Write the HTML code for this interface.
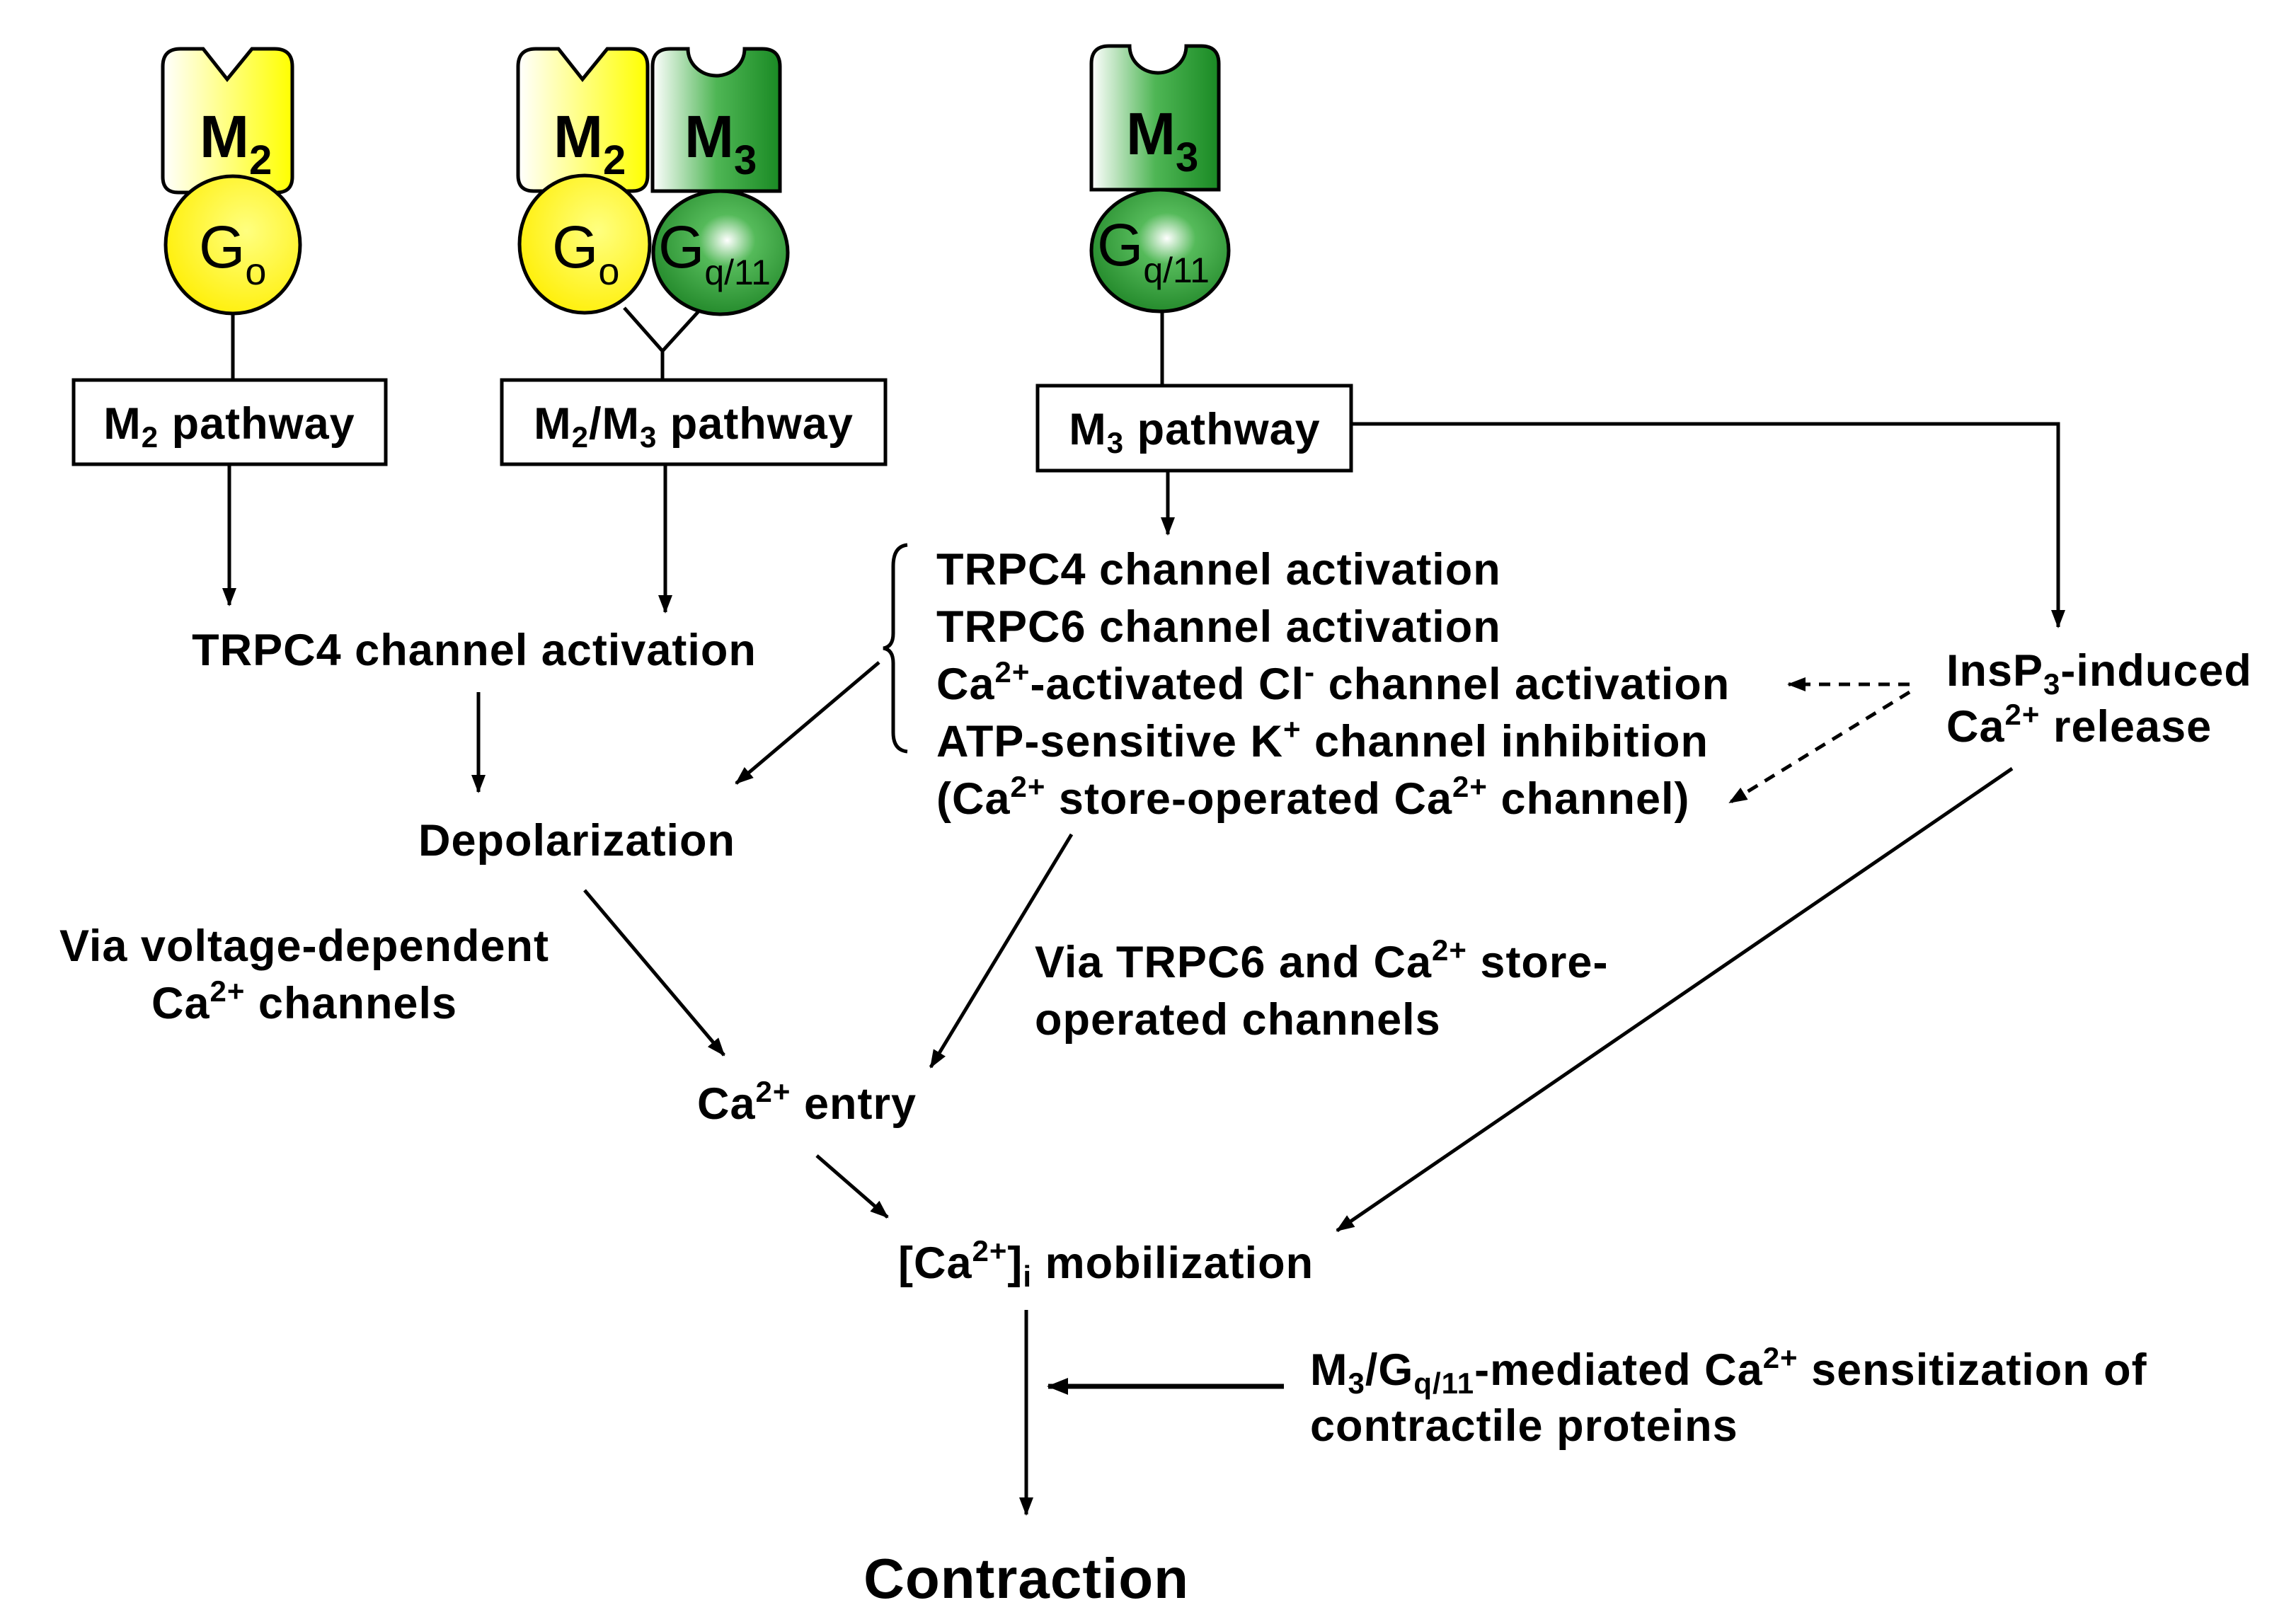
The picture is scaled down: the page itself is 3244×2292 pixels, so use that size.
<!DOCTYPE html>
<html><head><meta charset="utf-8"><style>
html,body{margin:0;padding:0;background:#fff}
svg{display:block}
text{font-family:"Liberation Sans",Arial,sans-serif;font-weight:bold;font-size:63px;fill:#000;letter-spacing:1px}
.g{font-weight:normal;font-size:84px;letter-spacing:0}
.r{font-size:84px;letter-spacing:0}
</style></head><body>
<svg width="3244" height="2292" viewBox="0 0 3244 2292" xmlns="http://www.w3.org/2000/svg">
<defs>
<linearGradient id="yl" x1="0" y1="0" x2="1" y2="0"><stop offset="0" stop-color="#fff"/><stop offset="1" stop-color="#ffff00"/></linearGradient>
<linearGradient id="gl" x1="0" y1="0" x2="1" y2="0"><stop offset="0" stop-color="#fff"/><stop offset="0.5" stop-color="#4fb655"/><stop offset="1" stop-color="#1a8a24"/></linearGradient>
<radialGradient id="yc" cx="0.6" cy="0.4" r="0.7"><stop offset="0" stop-color="#ffff80"/><stop offset="1" stop-color="#ffee00"/></radialGradient>
<radialGradient id="gc" cx="0.55" cy="0.4" r="0.7"><stop offset="0" stop-color="#fff"/><stop offset="0.3" stop-color="#55ba5a"/><stop offset="1" stop-color="#1a8022"/></radialGradient>
<marker id="a" markerUnits="userSpaceOnUse" markerWidth="26" markerHeight="20" refX="24" refY="10" orient="auto"><path d="M0,0 L26,10 L0,20 Z" fill="#000"/></marker>
<marker id="b" markerUnits="userSpaceOnUse" markerWidth="30" markerHeight="24" refX="28" refY="12" orient="auto"><path d="M0,0 L30,12 L0,24 Z" fill="#000"/></marker>
</defs>

<path d="M255 69 L287 69 L321 112 L356 69 L388 69 Q413 69 413 94 L413 250 Q413 272 391 272 L252 272 Q230 272 230 250 L230 94 Q230 69 255 69 Z" fill="url(#yl)" stroke="#000" stroke-width="5"/>
<text class="r" x="282" y="222">M<tspan font-size="58" dy="24">2</tspan></text>
<ellipse cx="329" cy="346" rx="95" ry="97" fill="url(#yc)" stroke="#000" stroke-width="5"/>
<text class="g" x="281" y="378">G<tspan font-size="54" dy="24">o</tspan></text>
<line x1="329" y1="443" x2="329" y2="536" stroke="#000" stroke-width="5"/>

<path d="M757 69 L789 69 L823 112 L858 69 L890 69 Q915 69 915 94 L915 248 Q915 270 893 270 L754 270 Q732 270 732 248 L732 94 Q732 69 757 69 Z" fill="url(#yl)" stroke="#000" stroke-width="5"/>
<ellipse cx="1018" cy="357" rx="95" ry="87" fill="url(#gc)" stroke="#000" stroke-width="5"/>
<path d="M947 69 L972 69 A40 38 0 0 0 1052 69 L1077 69 Q1102 69 1102 94 L1102 270 L922 270 L922 94 Q922 69 947 69 Z" fill="url(#gl)" stroke="#000" stroke-width="5"/>
<ellipse cx="826" cy="345" rx="92" ry="97" fill="url(#yc)" stroke="#000" stroke-width="5"/>
<text class="r" x="782" y="222">M<tspan font-size="58" dy="24">2</tspan></text>
<text class="r" x="967" y="222">M<tspan font-size="58" dy="24">3</tspan></text>
<text class="g" x="780" y="378">G<tspan font-size="54" dy="24">o</tspan></text>
<text class="g" x="930" y="378">G<tspan font-size="50" dy="24">q/11</tspan></text>
<polyline points="882,435 936,496 987,440" fill="none" stroke="#000" stroke-width="5"/>
<line x1="936" y1="496" x2="936" y2="536" stroke="#000" stroke-width="5"/>

<ellipse cx="1639" cy="354" rx="97" ry="86" fill="url(#gc)" stroke="#000" stroke-width="5"/>
<path d="M1567 65 L1596 65 A40 38 0 0 0 1676 65 L1697 65 Q1722 65 1722 90 L1722 268 L1542 268 L1542 90 Q1542 65 1567 65 Z" fill="url(#gl)" stroke="#000" stroke-width="5"/>
<text class="r" x="1591" y="218">M<tspan font-size="58" dy="24">3</tspan></text>
<text class="g" x="1550" y="375">G<tspan font-size="50" dy="24">q/11</tspan></text>
<line x1="1642" y1="440" x2="1642" y2="545" stroke="#000" stroke-width="5"/>

<rect x="104" y="537" width="441" height="119" fill="#fff" stroke="#000" stroke-width="5"/>
<text x="324" y="620" text-anchor="middle">M<tspan font-size="42" dy="12">2</tspan><tspan dy="-12"> pathway</tspan></text>
<rect x="709" y="537" width="542" height="119" fill="#fff" stroke="#000" stroke-width="5"/>
<text x="980" y="620" text-anchor="middle">M<tspan font-size="42" dy="12">2</tspan><tspan dy="-12">/M</tspan><tspan font-size="42" dy="12">3</tspan><tspan dy="-12"> pathway</tspan></text>
<rect x="1466" y="545" width="443" height="120" fill="#fff" stroke="#000" stroke-width="5"/>
<text x="1688" y="628" text-anchor="middle">M<tspan font-size="42" dy="12">3</tspan><tspan dy="-12"> pathway</tspan></text>

<g stroke="#000" stroke-width="5" fill="none">
<line x1="324" y1="658" x2="324" y2="855" marker-end="url(#a)"/>
<line x1="940" y1="658" x2="940" y2="865" marker-end="url(#a)"/>
<line x1="1650" y1="667" x2="1650" y2="755" marker-end="url(#a)"/>
<polyline points="1909,599 2908,599 2908,886" marker-end="url(#a)"/>
<line x1="676" y1="978" x2="676" y2="1119" marker-end="url(#a)"/>
<line x1="1242" y1="936" x2="1040" y2="1107" marker-end="url(#a)"/>
<line x1="2698" y1="967" x2="2527" y2="967" stroke-dasharray="16,12" marker-end="url(#a)"/>
<line x1="2698" y1="978" x2="2444" y2="1134" stroke-dasharray="16,12" marker-end="url(#a)"/>
<line x1="1514" y1="1179" x2="1315" y2="1508" marker-end="url(#a)"/>
<line x1="826" y1="1258" x2="1023" y2="1491" marker-end="url(#a)"/>
<line x1="1154" y1="1633" x2="1254" y2="1720" marker-end="url(#a)"/>
<line x1="2843" y1="1086" x2="1889" y2="1739" marker-end="url(#a)"/>
<line x1="1450" y1="1851" x2="1450" y2="2140" marker-end="url(#a)"/>
<line x1="1814" y1="1959" x2="1481" y2="1959" stroke-width="7" marker-end="url(#b)"/>
<path d="M1282 770 Q1262 772 1262 800 L1262 895 Q1262 914 1248 916 Q1262 918 1262 937 L1262 1035 Q1262 1060 1282 1062"/>
</g>

<text x="670" y="940" text-anchor="middle">TRPC4 channel activation</text>
<text x="815" y="1209" text-anchor="middle">Depolarization</text>
<text x="1323" y="826">TRPC4 channel activation</text>
<text x="1323" y="907">TRPC6 channel activation</text>
<text x="1323" y="988">Ca<tspan font-size="42" dy="-24">2+</tspan><tspan dy="24">-activated Cl</tspan><tspan font-size="42" dy="-24">-</tspan><tspan dy="24"> channel activation</tspan></text>
<text x="1323" y="1069">ATP-sensitive K<tspan font-size="42" dy="-24">+</tspan><tspan dy="24"> channel inhibition</tspan></text>
<text x="1323" y="1150">(Ca<tspan font-size="42" dy="-24">2+</tspan><tspan dy="24"> store-operated Ca</tspan><tspan font-size="42" dy="-24">2+</tspan><tspan dy="24"> channel)</tspan></text>
<text x="2750" y="969">InsP<tspan font-size="42" dy="12">3</tspan><tspan dy="-12">-induced</tspan></text>
<text x="2750" y="1048">Ca<tspan font-size="42" dy="-24">2+</tspan><tspan dy="24"> release</tspan></text>
<text x="430" y="1358" text-anchor="middle">Via voltage-dependent</text>
<text x="430" y="1439" text-anchor="middle">Ca<tspan font-size="42" dy="-24">2+</tspan><tspan dy="24"> channels</tspan></text>
<text x="1462" y="1381">Via TRPC6 and Ca<tspan font-size="42" dy="-24">2+</tspan><tspan dy="24"> store-</tspan></text>
<text x="1462" y="1462">operated channels</text>
<text x="1140" y="1581" text-anchor="middle">Ca<tspan font-size="42" dy="-24">2+</tspan><tspan dy="24"> entry</tspan></text>
<text x="1269" y="1806">[Ca<tspan font-size="42" dy="-24">2+</tspan><tspan dy="24">]</tspan><tspan font-size="42" dy="12">i</tspan><tspan dy="-12"> mobilization</tspan></text>
<text x="1851" y="1957">M<tspan font-size="42" dy="12">3</tspan><tspan dy="-12">/G</tspan><tspan font-size="42" dy="12">q/11</tspan><tspan dy="-12">-mediated Ca</tspan><tspan font-size="42" dy="-24">2+</tspan><tspan dy="24"> sensitization of</tspan></text>
<text x="1851" y="2036">contractile proteins</text>
<text x="1450" y="2258" text-anchor="middle" style="font-size:80px">Contraction</text>
</svg>
</body></html>
